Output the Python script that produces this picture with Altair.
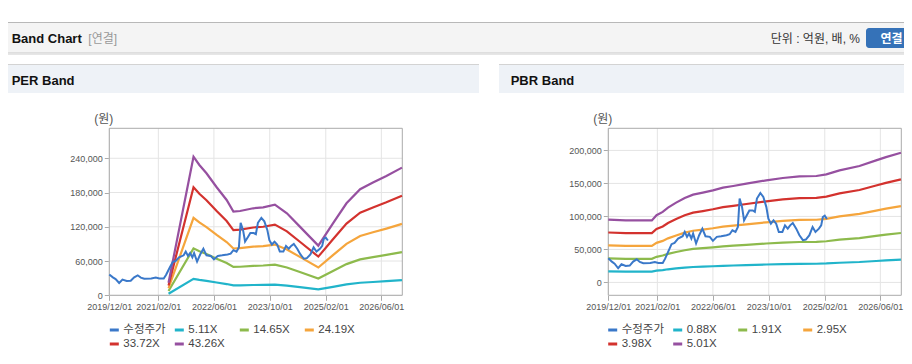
import altair as alt
import pandas as pd

# ---------------- data ----------------
price_label = "수정주가"
price_dates = [
    "2019-12-01", "2020-01-01", "2020-01-25", "2020-02-25", "2020-03-25", "2020-05-01",
    "2020-06-05", "2020-07-05", "2020-08-05", "2020-09-01", "2020-10-01", "2020-12-01",
    "2021-01-10", "2021-02-10", "2021-03-20", "2021-04-10", "2021-05-05", "2021-06-05",
    "2021-07-01", "2021-08-01", "2021-09-10", "2021-09-28", "2021-10-18", "2021-11-05",
    "2021-11-25", "2021-12-10", "2022-01-05", "2022-02-01", "2022-03-01", "2022-03-28",
    "2022-05-05", "2022-06-01", "2022-07-05", "2022-08-12", "2022-09-28", "2022-10-25",
    "2022-11-18", "2022-12-15", "2023-01-05", "2023-01-20", "2023-02-10", "2023-02-28",
    "2023-03-25", "2023-04-15", "2023-05-15", "2023-06-02", "2023-06-20", "2023-07-20",
    "2023-08-15", "2023-09-10", "2023-09-28", "2023-10-20", "2023-11-12", "2023-12-05",
    "2023-12-28", "2024-01-28", "2024-02-20", "2024-03-15", "2024-04-05", "2024-04-28",
    "2024-05-28", "2024-06-25", "2024-07-25", "2024-08-20", "2024-09-20", "2024-10-18",
    "2024-11-12", "2024-12-12", "2025-01-01", "2025-01-15", "2025-02-01", "2025-02-20",
]
price_values = [
    36500, 31500, 28500, 21500, 27500, 25000,
    25500, 31500, 35000, 31000, 29000, 29500,
    31000, 29500, 29500, 36000, 46000, 58000,
    60000, 66500, 70000, 76500, 69000, 74000,
    66500, 74000, 59000, 71500, 81500, 70000,
    69000, 63000, 69000, 70000, 71500, 73000,
    79000, 76500, 84000, 127000, 114500, 94000,
    102000, 109000, 109000, 107000, 127000, 135500,
    129500, 114500, 96500, 89000, 94000, 89000,
    76500, 76500, 86500, 81500, 86500, 90000,
    81500, 71500, 64000, 65000, 71500, 84000,
    76500, 81500, 86500, 99000, 101000, 96000,
]

# PER band: EPS, bands = EPS x multiple
per_dates = [
    "2021-05-01", "2021-12-05", "2022-01-25", "2022-03-28", "2022-06-25", "2022-09-20",
    "2022-11-18", "2023-01-15", "2023-05-10", "2023-08-05", "2023-11-15", "2024-02-28",
    "2024-06-20", "2024-11-28", "2025-04-05", "2025-08-01", "2025-11-28", "2026-03-20",
    "2026-07-15", "2026-11-28",
]
per_eps = [
    511, 5613, 5277, 4940, 4374, 3860,
    3389, 3414, 3523, 3562, 3671, 3319,
    2781, 2011, 2915, 3726, 4293, 4563,
    4831, 5169,
]
per_multiples = [5.11, 14.65, 24.19, 33.72, 43.26]

# PBR band: BPS, bands = BPS x multiple
pbr_dates = [
    "2019-12-01", "2020-05-01", "2020-12-15", "2021-01-25", "2021-03-20", "2021-05-05",
    "2021-07-15", "2021-09-28", "2021-12-10", "2022-03-05", "2022-06-01", "2022-08-28",
    "2022-11-25", "2023-03-20", "2023-09-10", "2024-02-01", "2024-06-25", "2024-11-20",
    "2025-02-15", "2025-06-10", "2025-12-01", "2026-04-25", "2026-07-20", "2026-11-28",
]
pbr_bps = [
    19000, 18750, 18750, 20320, 21320, 22630,
    24130, 25550, 26550, 27150, 27840, 28660,
    29160, 29860, 30880, 31580, 32080, 32180,
    32670, 33890, 35190, 36910, 37900, 39220,
]
pbr_multiples = [0.88, 1.91, 2.95, 3.98, 5.01]

x_domain = ["2019-12-01", "2026-12-01"]
x_ticks = ["2019-12-01", "2021-02-01", "2022-06-01", "2023-10-01", "2025-02-01", "2026-06-01"]
per_y_domain = [0, 292500]
per_y_ticks = [0, 60000, 120000, 180000, 240000]
pbr_y_domain = [-19500, 233500]
pbr_y_ticks = [0, 50000, 100000, 150000, 200000]

series_colors = ["#3a78c9", "#21b4ca", "#8dba4c", "#f5a53c", "#d3322e", "#9650a0"]

FONT = "Liberation Sans, Noto Sans CJK KR, sans-serif"
W, H = 896, 348
PLOT_TOP, PLOT_BOTTOM = 120.3, 287.3


def to_dt(s):
    y, m, d = (int(v) for v in s.split("-"))
    return alt.DateTime(year=y, month=m, date=d)


def panel(dates, base, mults, y_domain, y_ticks, x_range, legend_x):
    labels = [price_label] + [f"{m:.2f}X" for m in mults]
    price_df = pd.DataFrame({"date": pd.to_datetime(price_dates), "value": price_values,
                             "series": price_label})
    band_rows = []
    for m, lab in zip(mults, labels[1:]):
        for d, b in zip(dates, base):
            band_rows.append({"date": d, "value": round(b * m), "series": lab})
    band_df = pd.DataFrame(band_rows)
    band_df["date"] = pd.to_datetime(band_df["date"])

    xs = alt.Scale(domain=[to_dt(x_domain[0]), to_dt(x_domain[1])], range=x_range, nice=False)
    ys = alt.Scale(domain=y_domain, range=[PLOT_BOTTOM, PLOT_TOP], nice=False, zero=False)
    cs = alt.Scale(domain=labels, range=series_colors)

    legend = alt.Legend(
        orient="none", legendX=legend_x, legendY=316, direction="horizontal", columns=4,
        title=None, values=labels,
        symbolType="stroke", symbolStrokeWidth=3, symbolSize=81, gridAlign="all",
        columnPadding=2, rowPadding=2, labelOffset=3, labelFont=FONT, labelFontSize=11.5,
        labelColor="#444", padding=0,
    )
    x_axis = alt.Axis(
        orient="bottom", offset=-(H - PLOT_BOTTOM), values=[to_dt(t) for t in x_ticks],
        format="%Y/%m/%d", grid=False, domain=False, tickColor="#aaaaaa", tickSize=5,
        labelFont=FONT, labelFontSize=9, labelColor="#555555", labelOverlap=False,
        labelFlush=False, labelPadding=2, title=None,
    )
    y_axis = alt.Axis(
        orient="left", offset=-x_range[0], values=y_ticks, format=",d", grid=False,
        domain=False, tickColor="#aaaaaa", tickSize=5, labelFont=FONT, labelFontSize=9,
        labelColor="#555555", labelPadding=2, title="(원)", titleAngle=0, titleX=-6,
        titleY=110.3, titleAlign="center", titleBaseline="middle", titleFont=FONT,
        titleFontSize=12, titleFontWeight="normal", titleColor="#555555",
    )

    vgrid_df = pd.DataFrame({"date": pd.to_datetime(x_ticks), "y0": y_domain[0], "y1": y_domain[1]})
    hgrid_df = pd.DataFrame({"value": y_ticks, "x0": pd.to_datetime(x_domain[0]),
                             "x1": pd.to_datetime(x_domain[1])})
    frame_df = pd.DataFrame({"x0": pd.to_datetime([x_domain[0]]), "x1": pd.to_datetime([x_domain[1]]),
                             "y0": [y_domain[0]], "y1": [y_domain[1]]})

    vgrid = alt.Chart(vgrid_df).mark_rule(color="#e4e4e4", strokeWidth=1).encode(
        x=alt.X("date:T", scale=xs, axis=x_axis),
        y=alt.Y("y0:Q", scale=ys, axis=y_axis), y2="y1:Q")
    hgrid = alt.Chart(hgrid_df).mark_rule(color="#e4e4e4", strokeWidth=1).encode(
        y=alt.Y("value:Q", scale=ys, axis=y_axis),
        x=alt.X("x0:T", scale=xs, axis=x_axis), x2="x1:T")
    frame = alt.Chart(frame_df).mark_rect(filled=False, stroke="#aaaaaa", strokeWidth=1).encode(
        x=alt.X("x0:T", scale=xs, axis=x_axis), x2="x1:T",
        y=alt.Y("y0:Q", scale=ys, axis=y_axis), y2="y1:Q")
    bands = alt.Chart(band_df).mark_line(strokeWidth=2.2, clip=True).encode(
        x=alt.X("date:T", scale=xs, axis=x_axis),
        y=alt.Y("value:Q", scale=ys, axis=y_axis),
        color=alt.Color("series:N", scale=cs, legend=legend),
    )
    price = alt.Chart(price_df).mark_line(strokeWidth=2, clip=True).encode(
        x=alt.X("date:T", scale=xs, axis=x_axis),
        y=alt.Y("value:Q", scale=ys, axis=y_axis),
        color=alt.Color("series:N", scale=cs, legend=legend),
    )
    return alt.layer(vgrid, hgrid, frame, bands, price)


one = pd.DataFrame({"a": [0]})


def box(x0, x1, y0, y1, color, **kw):
    return alt.Chart(one).mark_rect(color=color, **kw).encode(
        x=alt.value(x0), x2=alt.value(x1), y=alt.value(y0), y2=alt.value(y1))


def label(text, x, y, size=12, weight="normal", color="#222222", align="left", baseline="alphabetic"):
    return alt.Chart(one).mark_text(text=text, font=FONT, fontSize=size, fontWeight=weight,
                                    color=color, align=align, baseline=baseline).encode(
        x=alt.value(x), y=alt.value(y))


decor = [
    box(0, W, 14, 15, "#b8b8b8"),
    box(0, W, 15, 44.5, "#f4f4f4"),
    box(0, W, 44.5, 45.5, "#c4c4c4"),
    box(0, W, 45.5, 47, "#e6e6e6"),
    box(0, 471, 56, 57, "#d3d3d3"),
    box(0, 471, 57, 85, "#eef2f7"),
    box(491, W, 56, 57, "#d3d3d3"),
    box(491, W, 57, 85, "#eef2f7"),
    box(858, W + 4, 20, 40, "#3572b8", cornerRadius=3),
    label("Band Chart", 3.7, 35.3, size=13, weight="bold", color="#111111"),
    label("[연결]", 80.3, 35.3, size=12, color="#999999"),
    label("단위 : 억원, 배, %", 852, 35, size=12, color="#333333", align="right"),
    label("연결", 883.5, 30.5, size=12, weight="bold", color="#ffffff", align="center", baseline="middle"),
    label("PER Band", 3.7, 77, size=13, weight="bold", color="#111111"),
    label("PBR Band", 502.7, 77, size=13, weight="bold", color="#111111"),
]

per_panel = panel(per_dates, per_eps, per_multiples, per_y_domain, per_y_ticks, [101.3, 394.3], 100.3)
pbr_panel = panel(pbr_dates, pbr_bps, pbr_multiples, pbr_y_domain, pbr_y_ticks, [600.3, 893.3], 598.7)

chart = alt.layer(*decor, per_panel, pbr_panel).resolve_scale(
    x="independent", y="independent", color="independent"
).properties(
    width=W, height=H, autosize=alt.AutoSizeParams(type="none"), padding=0,
    background="#ffffff",
).configure_view(stroke=None)

chart.save("out.html", embed_options={"renderer": "svg", "actions": False})
